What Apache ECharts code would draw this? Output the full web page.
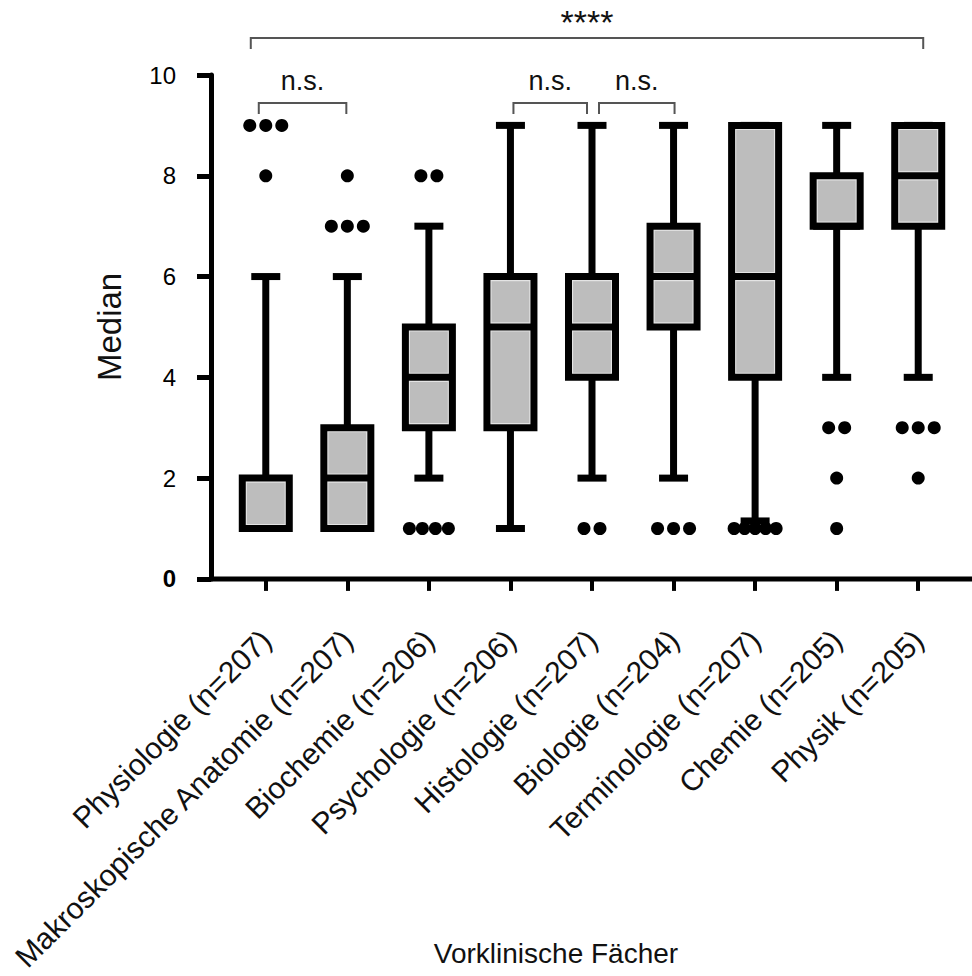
<!DOCTYPE html>
<html><head><meta charset="utf-8">
<script src="https://cdn.jsdelivr.net/npm/echarts@6/dist/echarts.min.js"></script>
<style>html,body{margin:0;padding:0;background:#fff}#c{width:972px;height:976px}</style>
</head><body><div id="c"></div>
<script>
// ---- data ----
const categories = ['Physiologie (n=207)', 'Makroskopische Anatomie (n=207)', 'Biochemie (n=206)', 'Psychologie (n=206)', 'Histologie (n=207)', 'Biologie (n=204)', 'Terminologie (n=207)', 'Chemie (n=205)', 'Physik (n=205)'];
const whiskerLow  = [1, 1, 2, 1, 2, 2, 1.15, 4, 4];
const q1          = [1, 1, 3, 3, 4, 5, 4, 7, 7];
const median      = [1, 2, 4, 5, 5, 6, 6, 7, 8];
const q3          = [2, 3, 5, 6, 6, 7, 9, 8, 9];
const whiskerHigh = [6, 6, 7, 9, 9, 9, 9, 9, 9];
const outliers = [[0,9],[0,9],[0,9],[0,8],[1,8],[1,7],[1,7],[1,7],[2,8],[2,8],[2,1],[2,1],[2,1],[2,1],[4,1],[4,1],[5,1],[5,1],[5,1],[6,1],[6,1],[6,1],[6,1],[6,1],[7,3],[7,3],[7,2],[7,1],[8,3],[8,3],[8,3],[8,2]];
const yTicks = [0, 2, 4, 6, 8, 10];
const comparisons = [
  {from: 0, to: 8, label: '****'},
  {from: 0, to: 1, label: 'n.s.'},
  {from: 3, to: 4, label: 'n.s.'},
  {from: 4, to: 5, label: 'n.s.'}
];
const xTitle = 'Vorklinische Fächer';
const yTitle = 'Median';

// ---- build ----
const FONT = "'Liberation Sans', Arial, Helvetica, sans-serif";
const boxData = categories.map((c, i) => [i, whiskerLow[i], q1[i], median[i], q3[i], whiskerHigh[i]]);

// spread duplicate outliers side by side (beeswarm-like)
const groupCount = {};
outliers.forEach(o => { const k = o[0] + '_' + o[1]; groupCount[k] = (groupCount[k] || 0) + 1; });
const groupIdx = {};
const outlierData = outliers.map(o => {
  const k = o[0] + '_' + o[1];
  const n = groupCount[k];
  const j = groupIdx[k] = (groupIdx[k] === undefined ? 0 : groupIdx[k] + 1);
  const step = n >= 5 ? 10.5 : (n === 4 ? 13 : 16);
  return {value: [o[0], o[1]], symbolOffset: [(j - (n - 1) / 2) * step, 0]};
});

const chart = echarts.init(document.getElementById('c'), null, {renderer: 'svg'});

function renderBox(params, api) {
  const i = api.value(0);
  const lo = api.coord([i, api.value(1)]);
  const b1 = api.coord([i, api.value(2)]);
  const md = api.coord([i, api.value(3)]);
  const b3 = api.coord([i, api.value(4)]);
  const hi = api.coord([i, api.value(5)]);
  const x = lo[0];
  const boxW = 47, capW = 29, lw = 7;
  const ls = {stroke: '#000', lineWidth: lw, fill: null};
  const ch = [
    {type: 'line', shape: {x1: x, y1: hi[1], x2: x, y2: b3[1]}, style: ls},
    {type: 'line', shape: {x1: x, y1: b1[1], x2: x, y2: lo[1]}, style: ls},
    {type: 'line', shape: {x1: x - capW / 2, y1: hi[1], x2: x + capW / 2, y2: hi[1]}, style: ls},
    {type: 'line', shape: {x1: x - capW / 2, y1: lo[1], x2: x + capW / 2, y2: lo[1]}, style: ls}
  ];
  const segs = [[b3[1], md[1]], [md[1], b1[1]]];
  segs.forEach(s => {
    const yA = s[0] + lw / 2 + 0.5, yB = s[1] - lw / 2 - 0.5;
    if (yB - yA > 1) {
      ch.push({type: 'rect', shape: {x: x - boxW / 2 + lw / 2 + 0.5, y: yA, width: boxW - lw - 1, height: yB - yA},
        style: {fill: '#bdbdbd', stroke: '#e4e4e4', lineWidth: 1.2}});
    }
  });
  ch.push({type: 'rect', shape: {x: x - boxW / 2, y: b3[1], width: boxW, height: b1[1] - b3[1]}, style: ls});
  ch.push({type: 'line', shape: {x1: x - boxW / 2, y1: md[1], x2: x + boxW / 2, y2: md[1]}, style: ls});
  return {type: 'group', children: ch};
}

chart.setOption({
  animation: false,
  backgroundColor: '#fff',
  grid: {left: 225, top: 75, width: 734, bottom: 392, containLabel: false},
  xAxis: {
    type: 'category', data: categories, boundaryGap: true,
    axisLine: {show: false},
    axisTick: {show: true, alignWithLabel: true, length: 12, lineStyle: {color: '#000', width: 4}},
    axisLabel: {interval: 0, rotate: 45, fontSize: 30, color: '#111', fontFamily: FONT, margin: 56},
    splitLine: {show: false}
  },
  yAxis: {
    type: 'value', min: yTicks[0], max: yTicks[yTicks.length - 1], interval: yTicks[1] - yTicks[0], offset: 14,
    axisLine: {show: true, lineStyle: {color: '#000', width: 5}},
    axisTick: {show: true, length: 14, lineStyle: {color: '#000', width: 5}},
    splitLine: {show: false},
    axisLabel: {color: '#000', fontSize: 24, fontFamily: FONT, margin: 35,
      formatter: v => v === 0 ? '{b|0}' : String(v),
      rich: {b: {fontWeight: 'bold', fontSize: 24, fontFamily: FONT, color: '#000'}}},
    name: yTitle, nameLocation: 'middle', nameGap: 85,
    nameTextStyle: {fontSize: 33, color: '#111', fontFamily: FONT}
  },
  series: [
    {type: 'custom', renderItem: renderBox, data: boxData, encode: {x: 0, y: [1, 2, 3, 4, 5]}, z: 2},
    {type: 'scatter', data: outlierData, symbol: 'circle', symbolSize: 13, itemStyle: {color: '#000', opacity: 1}, z: 3}
  ]
});

function drawExtras() {
  const px = i => chart.convertToPixel({xAxisIndex: 0}, categories[i]);
  const py = v => chart.convertToPixel({yAxisIndex: 0}, v);
  const yTop = py(yTicks[yTicks.length - 1]);
  const y0 = py(0);
  const yAxisX = px(0) - (px(1) - px(0)) / 2 - 14;
  const g = [];
  // x axis line spanning from the y axis to the right edge
  g.push({type: 'line', shape: {x1: yAxisX, y1: y0, x2: 972, y2: y0}, style: {stroke: '#000', lineWidth: 5}, z: 10});
  // significance brackets
  const layout = [
    {dl: -15, dr: 5, y: yTop - 37, ty: yTop - 53, fs: 34},
    {dl: -7, dr: -1, y: yTop + 28, ty: yTop + 6, fs: 27},
    {dl: 3, dr: -5, y: yTop + 28, ty: yTop + 6, fs: 27},
    {dl: 7, dr: 1, y: yTop + 28, ty: yTop + 6, fs: 27}
  ];
  comparisons.forEach((c, k) => {
    const L = layout[k];
    const xa = px(c.from) + L.dl, xb = px(c.to) + L.dr;
    g.push({type: 'polyline', shape: {points: [[xa, L.y + 11], [xa, L.y], [xb, L.y], [xb, L.y + 11]]},
      style: {stroke: '#555', lineWidth: 2, fill: null}, z: 10});
    g.push({type: 'text', x: (xa + xb) / 2, y: L.ty, z: 10,
      style: {text: c.label, fontSize: L.fs, fontFamily: FONT, fill: '#111', align: 'center', verticalAlign: 'middle'}});
  });
  // x axis title
  g.push({type: 'text', x: 556, y: 953, z: 10,
    style: {text: xTitle, fontSize: 28, fontFamily: FONT, fill: '#111', align: 'center', verticalAlign: 'middle'}});
  chart.setOption({graphic: {elements: g}});
}
drawExtras();
</script>
</body></html>
